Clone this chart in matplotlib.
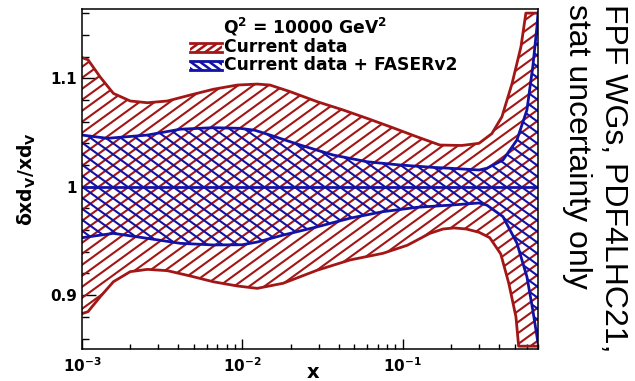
import numpy as np
import matplotlib
matplotlib.use("Agg")
import matplotlib.pyplot as plt
from matplotlib.collections import LineCollection
from matplotlib.transforms import IdentityTransform
from matplotlib.patches import Rectangle
from matplotlib.ticker import FixedLocator, MultipleLocator, LogLocator, FuncFormatter, NullFormatter

plt.rcParams["font.family"] = ["DejaVu Sans"]
plt.rcParams["mathtext.fontset"] = "dejavusans"
plt.rcParams["mathtext.default"] = "bf"

# ---------------- data ----------------
x_red_up = [1.0e-3, 1.09e-3, 1.30e-3, 1.57e-3, 2.0e-3, 2.56e-3, 3.41e-3, 4.74e-3, 6.59e-3,
            9.3e-3, 1.24e-2, 1.49e-2, 1.99e-2, 2.93e-2, 4.26e-2, 6.01e-2, 8.36e-2, 0.123,
            0.171, 0.234, 0.300, 0.361, 0.417, 0.482, 0.548, 0.588, 0.70]
red_up = [1.119, 1.117, 1.101, 1.086, 1.079, 1.0774, 1.079, 1.0845, 1.0898,
          1.0937, 1.0946, 1.0937, 1.0876, 1.0784, 1.0707, 1.063, 1.0553, 1.046,
          1.0384, 1.038, 1.040, 1.049, 1.0645, 1.095, 1.129, 1.160, 1.160]

x_red_lo = [1.0e-3, 1.09e-3, 1.30e-3, 1.57e-3, 2.0e-3, 2.56e-3, 3.41e-3, 4.74e-3, 6.59e-3,
            9.3e-3, 1.24e-2, 1.8e-2, 2.93e-2, 4.71e-2, 7.55e-2, 0.107, 0.148, 0.179,
            0.21, 0.25, 0.30, 0.35, 0.41, 0.46, 0.51, 0.53, 0.70]
red_lo = [0.883, 0.8848, 0.8986, 0.9124, 0.9217, 0.9238, 0.9226, 0.9177, 0.9124,
          0.9085, 0.9063, 0.911, 0.923, 0.9325, 0.9386, 0.946, 0.957, 0.961,
          0.962, 0.961, 0.958, 0.953, 0.938, 0.911, 0.880, 0.853, 0.853]

x_blue_up = [1.0e-3, 1.44e-3, 2.56e-3, 4.11e-3, 6.59e-3, 9.7e-3, 1.2e-2, 1.49e-2, 2.3e-2,
             3.69e-2, 6.01e-2, 9.64e-2, 0.155, 0.198, 0.300, 0.336, 0.423, 0.517,
             0.597, 0.650, 0.689, 0.70]
blue_up = [1.0476, 1.0446, 1.0476, 1.053, 1.0544, 1.0538, 1.052, 1.0476, 1.0384,
           1.0292, 1.023, 1.020, 1.0178, 1.017, 1.0154, 1.017, 1.0246, 1.043,
           1.0707, 1.111, 1.147, 1.160]

x_blue_lo = [1.0e-3, 1.57e-3, 2.56e-3, 4.11e-3, 6.59e-3, 1.0e-2, 1.24e-2, 1.81e-2, 2.93e-2,
             4.71e-2, 7.55e-2, 0.123, 0.198, 0.300, 0.336, 0.423, 0.517, 0.597,
             0.650, 0.70]
blue_lo = [0.953, 0.957, 0.9524, 0.9478, 0.9463, 0.9465, 0.949, 0.9555, 0.963,
           0.971, 0.977, 0.981, 0.983, 0.985, 0.983, 0.9724, 0.948, 0.917,
           0.886, 0.856]

central = 1.0
y_major = [0.9, 1.0, 1.1]
y_major_labels = ["0.9", "1", "1.1"]
label_red = "Current data"
label_blue = "Current data + FASERv2"
title_text = r"Q$^{2}$ = 10000 GeV$^{2}$"
side_text = "FPF WGs, PDF4LHC21,\nstat uncertainty only"
x_label = "x"
y_label = r"δxd$_{\mathbf{V}}$/xd$_{\mathbf{V}}$"

RED = "#a31616"
BLUE = "#1212a6"

W_PX, H_PX = 635, 381
fig = plt.figure(figsize=(W_PX / 100, H_PX / 100), dpi=100)
ax = fig.add_axes([82 / W_PX, 1 - 349 / H_PX, (538 - 82) / W_PX, (349 - 9) / H_PX])
ax.set_xscale("log")
ax.set_xlim(1e-3, 0.7)
ax.set_ylim(0.8504, 1.1638)


def hatch_lines(clip_artist, color, angle, gap_px, lw, z, target):
    th = np.deg2rad(angle)
    d = np.array([np.cos(th), np.sin(th)])
    n = np.array([-np.sin(th), np.cos(th)])
    R = np.hypot(W_PX, H_PX)
    c0 = np.array([W_PX / 2, H_PX / 2])
    segs = [[c0 + k * n - R * d, c0 + k * n + R * d] for k in np.arange(-R, R, gap_px)]
    lc = LineCollection(segs, colors=color, linewidths=lw,
                        transform=IdentityTransform(), zorder=z)
    if target is ax:
        ax.add_collection(lc, autolim=False)
    else:
        fig.add_artist(lc)
    lc.set_clip_path(clip_artist)
    return lc


def band(xu, yu, xl, yl, color, angle, z):
    xs = np.concatenate([xu, xl[::-1]])
    ys = np.concatenate([yu, yl[::-1]])
    poly = ax.fill(xs, ys, facecolor="none", edgecolor="none", zorder=z)[0]
    hatch_lines(poly, color, angle, 8.9, 1.5, z, ax)


band(np.array(x_red_up), np.array(red_up), np.array(x_red_lo), np.array(red_lo), RED, 36, 2)
band(np.array(x_blue_up), np.array(blue_up), np.array(x_blue_lo), np.array(blue_lo), BLUE, -36, 3)

ax.plot(x_red_up, red_up, color=RED, lw=2.0, zorder=4, solid_joinstyle="round")
ax.plot(x_red_lo, red_lo, color=RED, lw=2.0, zorder=4, solid_joinstyle="round")
ax.plot(x_blue_up, blue_up, color=BLUE, lw=2.0, zorder=5, solid_joinstyle="round")
ax.plot(x_blue_lo, blue_lo, color=BLUE, lw=2.0, zorder=5, solid_joinstyle="round")
ax.axhline(central, color=BLUE, lw=2.0, zorder=5)

# axes styling
for s in ax.spines.values():
    s.set_linewidth(1.1)
    s.set_zorder(10)
ax.yaxis.set_major_locator(FixedLocator(y_major))
ax.yaxis.set_major_formatter(FuncFormatter(lambda v, p: y_major_labels[y_major.index(round(v, 2))]
                                           if round(v, 2) in y_major else ""))
ax.yaxis.set_minor_locator(MultipleLocator(0.02))
ax.xaxis.set_major_locator(LogLocator(base=10, numticks=10))
ax.xaxis.set_minor_locator(LogLocator(base=10, subs=np.arange(2, 10), numticks=20))
ax.xaxis.set_minor_formatter(NullFormatter())
ax.xaxis.set_major_formatter(FuncFormatter(
    lambda v, p: r"$\mathbf{10^{%d}}$" % int(round(np.log10(v)))))
ax.tick_params(axis="y", which="major", direction="in", length=9.9, width=1.0,
               labelsize=11, pad=3.5, left=True, right=False)
ax.tick_params(axis="y", which="minor", direction="in", length=5.0, width=1.0,
               left=True, right=False)
ax.tick_params(axis="x", which="major", direction="in", length=7.2, width=1.0,
               labelsize=11, pad=5, top=False)
ax.tick_params(axis="x", which="minor", direction="in", length=3.6, width=1.0, top=False)
for lab in ax.get_yticklabels() + ax.get_xticklabels():
    lab.set_fontweight("bold")

ax.set_ylabel(y_label, fontsize=13.5, fontweight="bold", labelpad=9)


def fx(px):
    return px / W_PX


def fy(py):
    return 1 - py / H_PX


# x axis title
fig.text(fx(313), fy(378.5), x_label, fontsize=14, fontweight="bold", ha="center", va="baseline")

# legend (drawn manually in figure pixels)
fig.text(fx(223), fy(34), title_text, fontsize=12.3, fontweight="bold", va="baseline")
for (label, color, ang, ytop) in [(label_red, RED, 36, 43), (label_blue, BLUE, -36, 61)]:
    rect = Rectangle((fx(190), fy(ytop + 9)), fx(222) - fx(190), fy(ytop) - fy(ytop + 9),
                     transform=fig.transFigure, facecolor="none", edgecolor="none")
    fig.add_artist(rect)
    hatch_lines(rect, color, ang, 5.5, 1.8, 6, fig)
    fig.add_artist(plt.Line2D([fx(190), fx(222)], [fy(ytop), fy(ytop)], color=color, lw=2.0,
                              transform=fig.transFigure))
    fig.add_artist(plt.Line2D([fx(190), fx(222)], [fy(ytop + 9), fy(ytop + 9)], color=color,
                              lw=2.0, transform=fig.transFigure))
    fig.text(fx(224), fy(ytop + 9.5), label, fontsize=12.3, fontweight="bold", va="baseline")

fig.text(fx(628), fy(4), side_text, rotation=-90, ha="right", va="top",
         multialignment="left", fontsize=23, family=["Liberation Sans"], linespacing=1.25)

fig.savefig("out.png", dpi=100)
